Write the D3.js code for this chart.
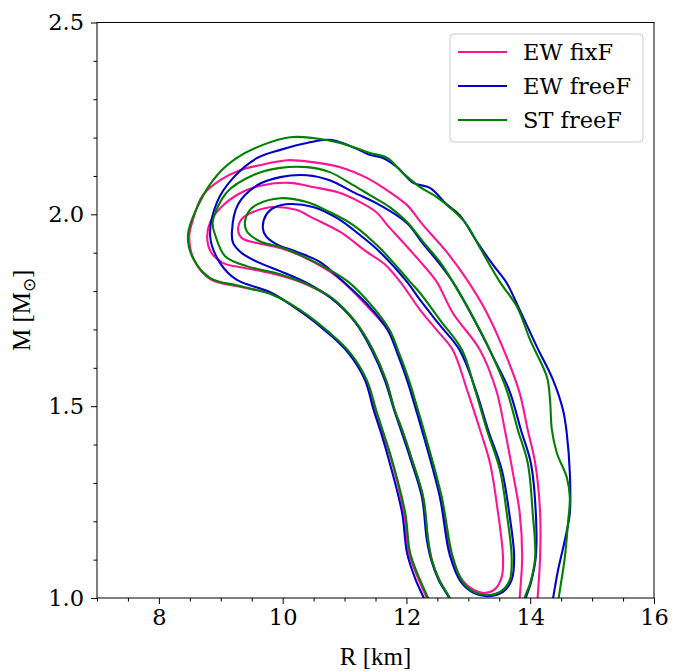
<!DOCTYPE html>
<html>
<head>
<meta charset="utf-8">
<script src="https://cdn.jsdelivr.net/npm/d3@7"></script>
<style>
  body { margin: 0; background: #fff; }
  svg { display: block; }
</style>
</head>
<body>
<div id="chart"></div>
<script>
// Series (legend order = draw order)
const seriesNames = ["EW fixF", "EW freeF", "ST freeF"];
const seriesColors = ["#ff1493", "#0000cd", "#008000"];

// Axis ticks
const xMajorTicks = [8, 10, 12, 14, 16];
const yMajorTicks = [1.0, 1.5, 2.0, 2.5];

// Contour lines as [R (km), M (Msun)].
// outer / middle levels leave the frame at the bottom, inner level is closed
const ewFixOuter = [
  [12.41, 0.969], [12.33, 1.000], [12.20, 1.047], [12.04, 1.117], [11.96, 1.222], [11.77, 1.352],
  [11.62, 1.425], [11.49, 1.490], [11.35, 1.568], [11.07, 1.639], [10.75, 1.691], [10.28, 1.748],
  [9.83, 1.792], [9.31, 1.811], [8.83, 1.831], [8.57, 1.881], [8.49, 1.941], [8.54, 1.980],
  [8.71, 2.050], [8.99, 2.089], [9.31, 2.115], [9.63, 2.128], [10.07, 2.141], [10.49, 2.136],
  [10.93, 2.123], [11.36, 2.095], [11.73, 2.058], [12.01, 2.024], [12.27, 1.972], [12.65, 1.902],
  [12.98, 1.829], [13.30, 1.743], [13.62, 1.628], [13.83, 1.534], [13.96, 1.438], [14.08, 1.352],
  [14.16, 1.222], [14.16, 1.107], [14.12, 1.000], [14.11, 0.969]
];
const ewFixMiddle = [
  [12.78, 0.969], [12.70, 1.000], [12.53, 1.047], [12.41, 1.099], [12.35, 1.151], [12.27, 1.263],
  [12.09, 1.360], [11.93, 1.438], [11.81, 1.490], [11.67, 1.568], [11.46, 1.646], [11.18, 1.719],
  [10.78, 1.782], [10.28, 1.824], [9.80, 1.847], [9.39, 1.860], [9.04, 1.873], [8.84, 1.902],
  [8.78, 1.941], [8.83, 1.980], [8.99, 2.016], [9.31, 2.055], [9.68, 2.076], [10.12, 2.082],
  [10.49, 2.071], [10.88, 2.058], [11.25, 2.032], [11.51, 2.006], [11.69, 1.972], [11.94, 1.928],
  [12.27, 1.868], [12.49, 1.824], [12.75, 1.743], [13.19, 1.646], [13.45, 1.542], [13.59, 1.438],
  [13.72, 1.326], [13.83, 1.222], [13.87, 1.107], [13.83, 1.000], [13.82, 0.969]
];
const ewFixInner = [
  [9.28, 1.959], [9.34, 1.988], [9.52, 2.006], [9.84, 2.019], [10.23, 2.011], [10.49, 1.990],
  [10.93, 1.954], [11.36, 1.902], [11.65, 1.870], [11.90, 1.824], [12.22, 1.751], [12.49, 1.698],
  [12.75, 1.646], [12.98, 1.542], [13.19, 1.438], [13.35, 1.352], [13.48, 1.222], [13.56, 1.107],
  [13.54, 1.055], [13.43, 1.023], [13.25, 1.013], [13.09, 1.021], [12.90, 1.047], [12.72, 1.117],
  [12.56, 1.263], [12.27, 1.438], [12.19, 1.482], [12.02, 1.568], [11.86, 1.639], [11.70, 1.698],
  [11.38, 1.758], [10.88, 1.837], [10.33, 1.889], [9.96, 1.912], [9.59, 1.925], [9.34, 1.938]
];

const ewFreeOuter = [
  [12.35, 0.969], [12.28, 1.000], [12.15, 1.047], [12.01, 1.117], [11.93, 1.222], [11.73, 1.352],
  [11.60, 1.425], [11.47, 1.490], [11.33, 1.568], [11.06, 1.639], [10.73, 1.691], [10.28, 1.748],
  [9.80, 1.797], [9.26, 1.829], [8.99, 1.873], [8.83, 1.941], [8.94, 2.032], [9.20, 2.095],
  [9.59, 2.147], [9.96, 2.168], [10.39, 2.186], [10.76, 2.194], [11.14, 2.175], [11.41, 2.155],
  [11.62, 2.147], [11.85, 2.123], [12.11, 2.082], [12.38, 2.069], [12.65, 2.026], [12.86, 1.998],
  [13.14, 1.928], [13.40, 1.868], [13.62, 1.821], [13.83, 1.751], [14.11, 1.654], [14.37, 1.568],
  [14.53, 1.490], [14.59, 1.430], [14.64, 1.326], [14.64, 1.222], [14.56, 1.151], [14.45, 1.073],
  [14.37, 1.000], [14.34, 0.969]
];
const ewFreeMiddle = [
  [12.78, 0.969], [12.69, 1.000], [12.52, 1.047], [12.40, 1.099], [12.33, 1.151], [12.25, 1.263],
  [12.07, 1.360], [11.91, 1.438], [11.80, 1.490], [11.65, 1.568], [11.44, 1.646], [11.17, 1.719],
  [10.78, 1.782], [10.39, 1.821], [9.96, 1.852], [9.59, 1.876], [9.34, 1.899], [9.20, 1.925],
  [9.18, 1.954], [9.28, 2.026], [9.59, 2.076], [9.96, 2.097], [10.39, 2.102], [10.76, 2.089],
  [11.14, 2.058], [11.57, 2.024], [12.01, 1.977], [12.27, 1.923], [12.54, 1.870], [12.78, 1.816],
  [13.19, 1.696], [13.41, 1.625], [13.66, 1.542], [13.85, 1.438], [14.01, 1.352], [14.09, 1.222],
  [14.09, 1.107], [14.01, 1.039], [13.93, 1.000], [13.90, 0.969]
];
const ewFreeInner = [
  [9.68, 1.964], [9.73, 1.998], [9.88, 2.019], [10.12, 2.027], [10.49, 2.019], [10.88, 1.990],
  [11.25, 1.946], [11.57, 1.902], [12.01, 1.824], [12.22, 1.777], [12.54, 1.711], [12.86, 1.646],
  [13.12, 1.542], [13.32, 1.438], [13.54, 1.334], [13.66, 1.222], [13.74, 1.107], [13.70, 1.047],
  [13.56, 1.016], [13.32, 1.005], [13.09, 1.013], [12.88, 1.042], [12.70, 1.112], [12.54, 1.263],
  [12.25, 1.438], [12.17, 1.482], [12.01, 1.568], [11.85, 1.639], [11.70, 1.698], [11.41, 1.758],
  [10.97, 1.826], [10.60, 1.876], [10.23, 1.902], [9.89, 1.923], [9.73, 1.943]
];

const stFreeOuter = [
  [12.43, 0.969], [12.35, 1.000], [12.22, 1.047], [12.06, 1.117], [11.98, 1.222], [11.78, 1.352],
  [11.64, 1.425], [11.51, 1.490], [11.36, 1.568], [11.09, 1.639], [10.76, 1.691], [10.28, 1.751],
  [9.84, 1.790], [9.31, 1.813], [8.83, 1.834], [8.55, 1.886], [8.47, 1.946], [8.66, 2.032],
  [8.94, 2.102], [9.26, 2.147], [9.68, 2.181], [10.12, 2.201], [10.49, 2.199], [10.93, 2.186],
  [11.41, 2.160], [11.69, 2.147], [11.94, 2.108], [12.22, 2.071], [12.49, 2.045], [12.75, 2.011],
  [12.98, 1.972], [13.19, 1.912], [13.51, 1.824], [13.79, 1.758], [14.00, 1.672], [14.27, 1.576],
  [14.32, 1.516], [14.35, 1.438], [14.43, 1.378], [14.59, 1.315], [14.64, 1.263], [14.61, 1.195],
  [14.56, 1.107], [14.48, 1.021], [14.43, 0.969]
];
const stFreeMiddle = [
  [12.80, 0.969], [12.70, 1.000], [12.53, 1.047], [12.41, 1.099], [12.35, 1.151], [12.27, 1.263],
  [12.09, 1.360], [11.93, 1.438], [11.81, 1.490], [11.67, 1.568], [11.46, 1.646], [11.18, 1.719],
  [10.80, 1.782], [10.39, 1.818], [9.96, 1.844], [9.42, 1.865], [9.07, 1.891], [8.91, 1.946],
  [8.87, 1.980], [9.10, 2.058], [9.52, 2.102], [9.96, 2.121], [10.39, 2.123], [10.76, 2.110],
  [11.14, 2.076], [11.41, 2.050], [11.73, 2.019], [12.01, 1.980], [12.27, 1.928], [12.54, 1.876],
  [12.75, 1.824], [13.19, 1.698], [13.40, 1.628], [13.62, 1.542], [13.80, 1.438], [13.96, 1.352],
  [14.04, 1.222], [14.08, 1.107], [14.00, 1.039], [13.91, 1.000], [13.88, 0.969]
];
const stFreeInner = [
  [9.39, 1.980], [9.46, 2.009], [9.59, 2.026], [9.96, 2.042], [10.39, 2.032], [10.76, 2.006],
  [11.14, 1.972], [11.57, 1.912], [12.06, 1.824], [12.22, 1.795], [12.54, 1.725], [12.90, 1.646],
  [13.11, 1.542], [13.30, 1.438], [13.51, 1.334], [13.62, 1.222], [13.70, 1.107], [13.67, 1.047],
  [13.53, 1.018], [13.30, 1.008], [13.09, 1.016], [12.90, 1.044], [12.74, 1.112], [12.57, 1.263],
  [12.28, 1.438], [12.20, 1.482], [12.04, 1.568], [11.88, 1.639], [11.73, 1.698], [11.46, 1.758],
  [11.06, 1.824], [10.49, 1.878], [10.01, 1.912], [9.63, 1.930], [9.42, 1.956]
];

// which line belongs to which series
const contours = [
  { s: 0, closed: false, pts: ewFixOuter },
  { s: 0, closed: false, pts: ewFixMiddle },
  { s: 0, closed: true, pts: ewFixInner },
  { s: 1, closed: false, pts: ewFreeOuter },
  { s: 1, closed: false, pts: ewFreeMiddle },
  { s: 1, closed: true, pts: ewFreeInner },
  { s: 2, closed: false, pts: stFreeOuter },
  { s: 2, closed: false, pts: stFreeMiddle },
  { s: 2, closed: true, pts: stFreeInner }
];

// Dimensions
const W = 684, H = 671;
const margin = { top: 22.5, right: 30, bottom: 73, left: 97 };
const plotW = W - margin.left - margin.right;
const plotH = H - margin.top - margin.bottom;
const tickFont = "'DejaVu Serif', serif";
const labelFont = "'Liberation Serif', 'Times New Roman', serif";

const svg = d3.select("#chart").append("svg")
    .attr("width", W)
    .attr("height", H);

const x = d3.scaleLinear().domain([7, 16]).range([0, plotW]);
const y = d3.scaleLinear().domain([1.0, 2.5]).range([plotH, 0]);

const g = svg.append("g").attr("transform", `translate(${margin.left},${margin.top})`);

svg.append("defs").append("clipPath").attr("id", "plot-clip")
  .append("rect").attr("width", plotW).attr("height", plotH);

// contours
const openLine = d3.line().x(d => x(d[0])).y(d => y(d[1])).curve(d3.curveCatmullRom.alpha(0.5));
const closedLine = d3.line().x(d => x(d[0])).y(d => y(d[1])).curve(d3.curveCatmullRomClosed.alpha(0.5));

g.append("g")
    .attr("clip-path", "url(#plot-clip)")
  .selectAll("path")
  .data(contours)
  .enter()
  .append("path")
    .attr("d", d => d.closed ? closedLine(d.pts) : openLine(d.pts))
    .attr("fill", "none")
    .attr("stroke", d => seriesColors[d.s])
    .attr("stroke-width", 2.1)
    .attr("stroke-linejoin", "round");

// axes
const xMinor = d3.range(7, 16.001, 0.5).filter(v => !xMajorTicks.includes(v));
const yMinor = d3.range(10, 25.001, 1).map(v => v / 10).filter(v => !yMajorTicks.some(t => Math.abs(t - v) < 1e-6));

function styleAxis(sel) {
  sel.select(".domain").remove();
  sel.selectAll("line").attr("stroke", "#000").attr("stroke-width", 1);
  sel.selectAll("text").style("font-family", tickFont).style("font-size", "22.5px").attr("fill", "#000");
}

g.append("g").attr("transform", `translate(0,${plotH})`)
  .call(d3.axisBottom(x).tickValues(xMinor).tickSize(3.5).tickFormat(""))
  .call(styleAxis);
g.append("g").attr("transform", `translate(0,${plotH})`)
  .call(d3.axisBottom(x).tickValues(xMajorTicks).tickSize(6).tickPadding(5).tickFormat(d3.format("d")))
  .call(styleAxis);

g.append("g")
  .call(d3.axisLeft(y).tickValues(yMinor).tickSize(3.5).tickFormat(""))
  .call(styleAxis);
g.append("g")
  .call(d3.axisLeft(y).tickValues(yMajorTicks).tickSize(6).tickPadding(7).tickFormat(d3.format(".1f")))
  .call(styleAxis);

// frame
g.append("rect")
    .attr("width", plotW)
    .attr("height", plotH)
    .attr("fill", "none")
    .attr("stroke", "#000")
    .attr("stroke-width", 1);

// axis labels
svg.append("text")
    .attr("x", margin.left + plotW / 2)
    .attr("y", 665)
    .attr("text-anchor", "middle")
    .style("font-family", labelFont)
    .style("font-size", "25px")
    .text("R [km]");

const yLab = svg.append("text")
    .attr("transform", `translate(30,${margin.top + plotH / 2}) rotate(-90)`)
    .attr("text-anchor", "middle")
    .style("font-family", labelFont)
    .style("font-size", "25px");
yLab.append("tspan").text("M [M");
yLab.append("tspan").attr("dy", 5).style("font-size", "17px").text("⊙");
yLab.append("tspan").attr("dy", -5).text("]");

// legend
const legend = svg.append("g").attr("transform", "translate(450,34)");
legend.append("rect")
    .attr("width", 193)
    .attr("height", 108)
    .attr("rx", 4)
    .attr("fill", "#fff")
    .attr("fill-opacity", 0.8)
    .attr("stroke", "#cccccc")
    .attr("stroke-width", 1);

const items = legend.selectAll("g.item")
  .data(seriesNames)
  .enter()
  .append("g")
    .attr("class", "item")
    .attr("transform", (d, i) => `translate(0,${18 + i * 34})`);

items.append("line")
    .attr("x1", 8).attr("x2", 57)
    .attr("stroke", (d, i) => seriesColors[i])
    .attr("stroke-width", 2.1);

items.append("text")
    .attr("x", 73)
    .attr("y", 8)
    .style("font-family", tickFont)
    .style("font-size", "22.5px")
    .text(d => d);
</script>
</body>
</html>
